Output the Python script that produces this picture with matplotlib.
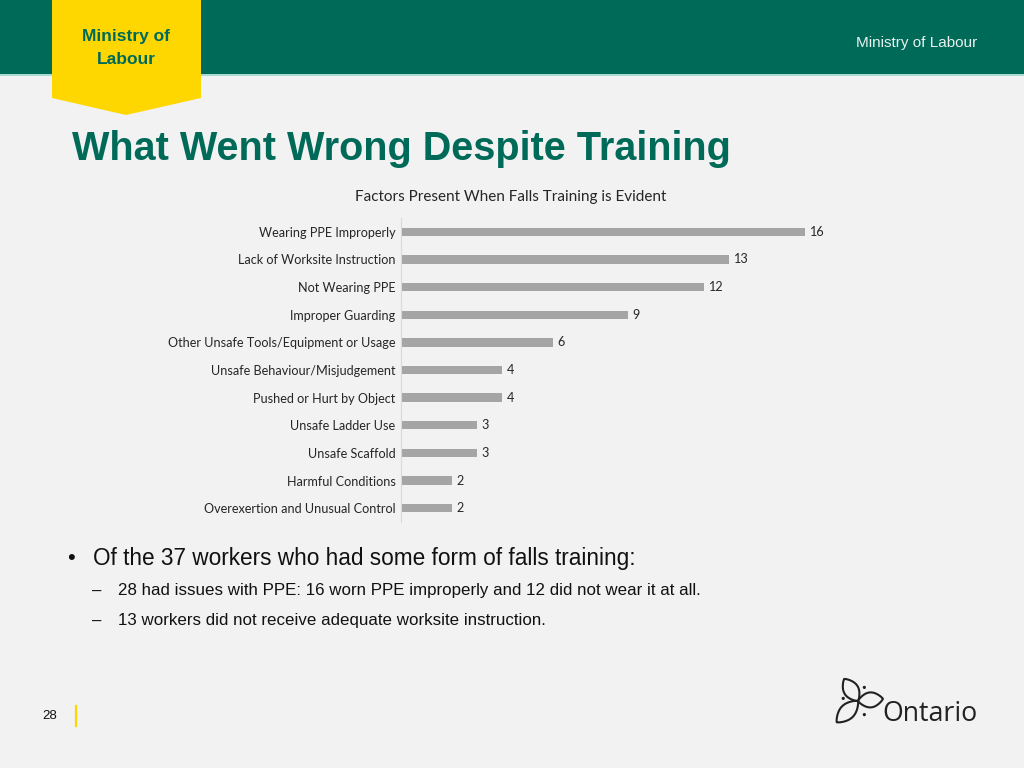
import matplotlib
matplotlib.use("Agg")
import matplotlib.pyplot as plt
from matplotlib.patches import Polygon, Rectangle, Circle
import numpy as np

categories = ["Wearing PPE Improperly", "Lack of Worksite Instruction", "Not Wearing PPE",
              "Improper Guarding", "Other Unsafe Tools/Equipment or Usage",
              "Unsafe Behaviour/Misjudgement", "Pushed or Hurt by Object",
              "Unsafe Ladder Use", "Unsafe Scaffold", "Harmful Conditions",
              "Overexertion and Unusual Control"]
values = [16, 13, 12, 9, 6, 4, 4, 3, 3, 2, 2]

chart_title = "Factors Present When Falls Training is Evident"
slide_title = "What Went Wrong Despite Training"
bullet_main = "Of the 37 workers who had some form of falls training:"
bullet_subs = ["28 had issues with PPE: 16 worn PPE improperly and 12 did not wear it at all.",
               "13 workers did not receive adequate worksite instruction."]

W, H = 1024, 768
BG = "#f2f2f2"
GREEN = "#006a59"
YELLOW = "#ffd700"

fig = plt.figure(figsize=(W / 100, H / 100), dpi=100)
fig.patch.set_facecolor(BG)

deco = fig.add_axes([0, 0, 1, 1])
deco.set_xlim(0, W)
deco.set_ylim(H, 0)
deco.axis("off")
deco.set_zorder(0)

deco.add_patch(Rectangle((0, 0), W, 74, color=GREEN, lw=0))
deco.add_patch(Rectangle((0, 74), W, 2, color="#a8dcd2", lw=0))
deco.add_patch(Polygon([(52, 0), (201, 0), (201, 98), (126, 115), (52, 98)],
                       closed=True, color=YELLOW, lw=0))
deco.text(126, 36, "Ministry of", ha="center", va="center", fontsize=12.5,
          fontweight="bold", color=GREEN, family="Liberation Sans")
deco.text(126, 59, "Labour", ha="center", va="center", fontsize=12.5,
          fontweight="bold", color=GREEN, family="Liberation Sans")
deco.text(977, 43, "Ministry of Labour", ha="right", va="center", fontsize=11,
          color="#e8f2ef", family="Liberation Sans")

deco.text(72, 149, slide_title, ha="left", va="center", fontsize=28.5,
          fontweight="bold", color=GREEN, family="Liberation Sans")

deco.text(511, 197, chart_title, ha="center", va="center", fontsize=11,
          color="#262626", family="Lato")

deco.text(67, 558, "•", ha="left", va="center", fontsize=16, color="#111111",
          family="Liberation Sans")
deco.text(93, 558, bullet_main, ha="left", va="center", fontsize=16.3,
          color="#111111", family="Liberation Sans")
for i, s in enumerate(bullet_subs):
    yy = 591 + 30 * i
    deco.text(92, yy, "–", ha="left", va="center", fontsize=12.2, color="#111111",
              family="Liberation Sans")
    deco.text(118, yy, s, ha="left", va="center", fontsize=12.2, color="#111111",
              family="Liberation Sans")

deco.text(50, 716, "28", ha="center", va="center", fontsize=9.5, color="#111111",
          family="Liberation Sans")
deco.plot([76, 76], [706, 726], color=YELLOW, lw=1.6)

# Ontario logo
deco.text(882, 714, "Ontario", ha="left", va="center", fontsize=19.3,
          color="#222222", family="Open Sans")
cx, cy = 858, 701
t = np.linspace(0, 1, 40)
for ang, L in [(-122, 26), (-5, 25), (135, 30)]:
    w = 7.5
    xs = np.concatenate([t * L, t[::-1] * L])
    ys = np.concatenate([w * np.sin(np.pi * t) ** 0.8, -w * np.sin(np.pi * t[::-1]) ** 0.8])
    a = np.deg2rad(ang)
    px = cx + xs * np.cos(a) - ys * np.sin(a)
    py = cy + xs * np.sin(a) + ys * np.cos(a)
    deco.add_patch(Polygon(np.column_stack([px, py]), closed=True, fill=False,
                           ec="#222222", lw=1.5))
for ang in [-65, 65, 190]:
    a = np.deg2rad(ang)
    deco.add_patch(Circle((cx + 15 * np.cos(a), cy + 15 * np.sin(a)), 1.6,
                          color="#222222", lw=0))

# chart
left = 401 / W
bottom = 1 - 522 / H
height = (522 - 218) / H
ax = fig.add_axes([left, bottom, 420 / W, height])
ax.set_zorder(1)
ax.patch.set_alpha(0)
y = np.arange(len(categories))
ax.barh(y, values, height=0.3, color="#a5a5a5")
ax.set_xlim(0, 420 / 25.25)
ax.set_ylim(len(categories) - 0.5, -0.5)
ax.set_yticks(y)
ax.set_yticklabels(categories, fontsize=9.1, family="Lato", color="#262626")
ax.tick_params(axis="y", length=0, pad=4)
ax.set_xticks([])
for sp in ["top", "right", "bottom"]:
    ax.spines[sp].set_visible(False)
ax.spines["left"].set_color("#d9d9d9")
for yi, v in zip(y, values):
    ax.text(v + 0.18, yi, str(v), ha="left", va="center", fontsize=9.1,
            family="Lato", color="#262626")

fig.savefig("out.png", dpi=100, facecolor=BG)
